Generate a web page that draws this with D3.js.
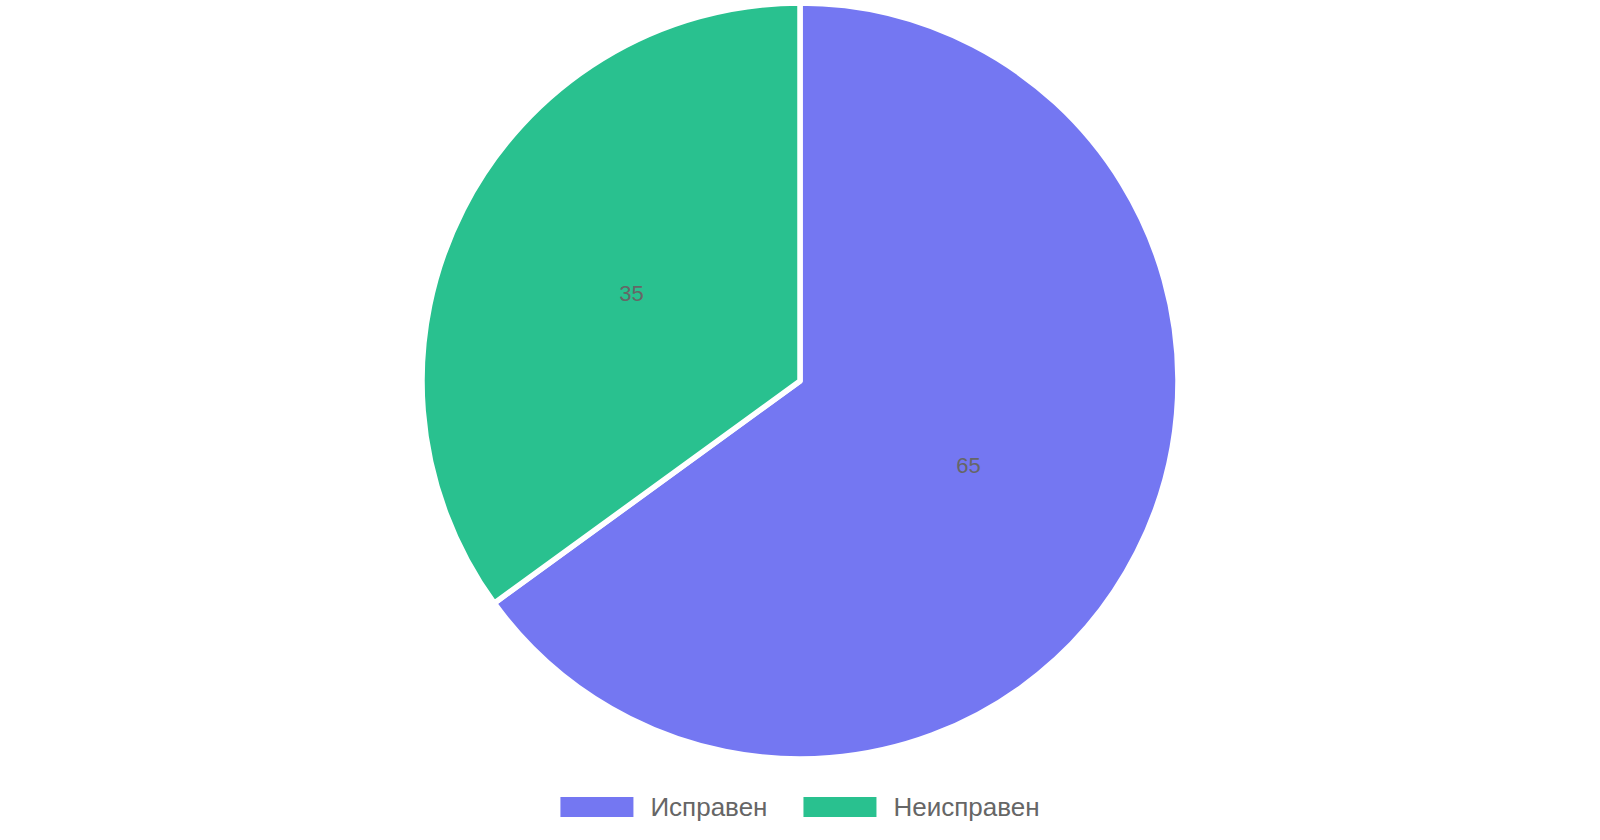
<!DOCTYPE html>
<html>
<head>
<meta charset="utf-8">
<script src="https://cdn.jsdelivr.net/npm/d3@7"></script>
<style>
  body { margin: 0; background: #fff; }
  svg { display: block; font-family: "Liberation Sans", Arial, sans-serif; }
</style>
</head>
<body>
<div id="chart"></div>
<script>
var labels = ["Исправен", "Неисправен"];
var values = [65, 35];
var colors = ["#7477F2", "#29C18F"];

var width = 1600, height = 840;
var cx = 800, cy = 381, radius = 378;

var svg = d3.select("#chart").append("svg")
    .attr("width", width)
    .attr("height", height);

var pie = d3.pie().sort(null).value(function(d) { return d; });
var arc = d3.arc().innerRadius(0).outerRadius(radius);
var arcs = pie(values);

var g = svg.append("g")
    .attr("transform", "translate(" + cx + "," + cy + ")");

g.selectAll("path.slice")
  .data(arcs)
  .enter().append("path")
    .attr("class", "slice")
    .attr("d", arc)
    .attr("fill", function(d, i) { return colors[i]; })
    .attr("stroke", "#fff")
    .attr("stroke-width", 5.5)
    .attr("stroke-linejoin", "round");

// value labels at the slice centroid
g.selectAll("text.val")
  .data(arcs)
  .enter().append("text")
    .attr("class", "val")
    .attr("transform", function(d) { return "translate(" + arc.centroid(d) + ")"; })
    .attr("text-anchor", "middle")
    .attr("dy", "0.28em")
    .attr("font-size", 22)
    .attr("fill", "#666")
    .text(function(d) { return d.data; });

// legend, centred under the pie
var boxW = 73, boxH = 20, boxGap = 17, itemGap = 36, fontSize = 26;
var legend = svg.append("g").attr("class", "legend");

var items = legend.selectAll("g.item")
  .data(labels)
  .enter().append("g")
    .attr("class", "item");

items.append("rect")
    .attr("width", boxW)
    .attr("height", boxH)
    .attr("y", -boxH / 2)
    .attr("fill", function(d, i) { return colors[i]; });

items.append("text")
    .attr("x", boxW + boxGap)
    .attr("dy", "0.35em")
    .attr("font-size", fontSize)
    .attr("fill", "#666")
    .text(function(d) { return d; });

var x = 0;
items.each(function() {
  var w = this.getBBox().width;
  d3.select(this).attr("transform", "translate(" + x + ",0)");
  x += w + itemGap;
});
var total = x - itemGap;
legend.attr("transform", "translate(" + (cx - total / 2) + ",807)");
</script>
</body>
</html>
